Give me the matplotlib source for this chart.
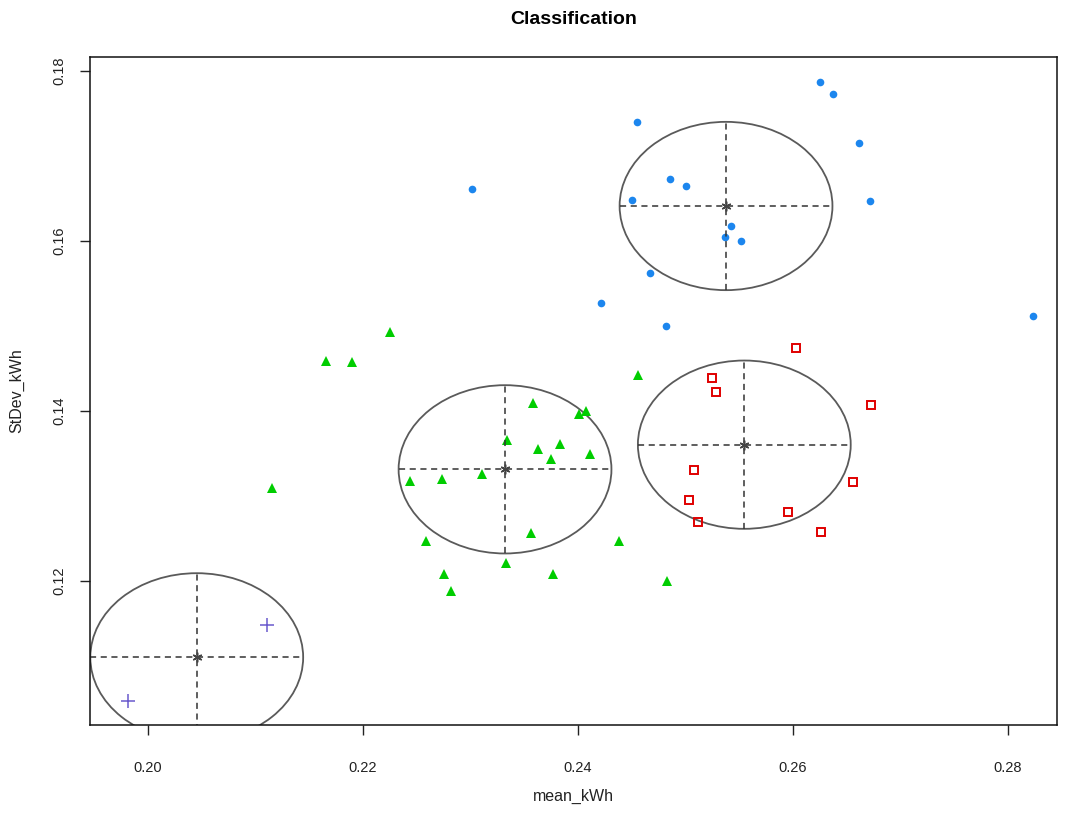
import matplotlib
matplotlib.use('Agg')
import matplotlib.pyplot as plt
import numpy as np
from matplotlib.patches import Ellipse

plt.rcParams['font.family'] = ['Liberation Sans', 'DejaVu Sans']

# cluster members (mean_kWh, StDev_kWh)
blue_x = [0.26248, 0.26375, 0.24552, 0.26611, 0.24856, 0.25005, 0.24502, 0.26719,
          0.25423, 0.25370, 0.25519, 0.24667, 0.24217, 0.24816, 0.28233, 0.23014]
blue_y = [0.17871, 0.17729, 0.17404, 0.17153, 0.16726, 0.16651, 0.16479, 0.16471,
          0.16173, 0.16047, 0.15996, 0.15620, 0.15267, 0.15000, 0.15121, 0.16612]

green_x = [0.22251, 0.21656, 0.21895, 0.24555, 0.23584, 0.24009, 0.24072, 0.23337,
           0.23631, 0.23833, 0.23746, 0.24112, 0.21153, 0.22440, 0.22735, 0.23110,
           0.22589, 0.23560, 0.24384, 0.23327, 0.22756, 0.23765, 0.22819, 0.24825]
green_y = [0.14933, 0.14588, 0.14573, 0.14420, 0.14098, 0.13965, 0.14004, 0.13659,
           0.13549, 0.13608, 0.13439, 0.13491, 0.13091, 0.13176, 0.13196, 0.13259,
           0.12474, 0.12568, 0.12474, 0.12215, 0.12079, 0.12079, 0.11886, 0.12004]

red_x = [0.26028, 0.25247, 0.25281, 0.26728, 0.25082, 0.26561, 0.25030, 0.25113,
         0.25953, 0.26258]
red_y = [0.14745, 0.14385, 0.14224, 0.14071, 0.13309, 0.13161, 0.12953, 0.12698,
         0.12815, 0.12576]

purple_x = [0.21110, 0.19811]
purple_y = [0.11479, 0.10592]

# cluster centres and radius
centre_x = [0.25377, 0.23321, 0.25547, 0.20453]
centre_y = [0.16412, 0.13314, 0.13604, 0.11102]
radius = 0.0099

fig = plt.figure(figsize=(10.7, 8.13), dpi=100)
ax = fig.add_axes([90 / 1070, 1 - 725 / 813, 967 / 1070, 668 / 813])

ax.plot(blue_x, blue_y, 'o', color='#1C86EE', markersize=5.5, markeredgewidth=0)
ax.plot(green_x, green_y, '^', color='#00CD00', markersize=7, markeredgewidth=0)
ax.plot(red_x, red_y, 's', color='#E00000', markerfacecolor='none',
        markersize=6, markeredgewidth=1.4)
ax.plot(purple_x, purple_y, '+', color='#6A5ACD', markersize=10, markeredgewidth=1.1)

for cx, cy in zip(centre_x, centre_y):
    ax.add_patch(Ellipse((cx, cy), 2 * radius, 2 * radius, fill=False,
                         edgecolor='#5a5a5a', linewidth=1.3, clip_on=True))
    ax.plot([cx - radius, cx + radius], [cy, cy], color='#333333',
            linestyle=(0, (4, 3)), linewidth=1.1)
    ax.plot([cx, cx], [cy - radius, cy + radius], color='#333333',
            linestyle=(0, (4, 3)), linewidth=1.1)
    ax.plot(cx, cy, marker=(6, 2, 0), color='#444444', markersize=7, markeredgewidth=1.1)

ax.set_xlim(0.19460, 0.28456)
ax.set_ylim(0.10306, 0.18165)
ax.set_xticks([0.20, 0.22, 0.24, 0.26, 0.28])
ax.set_xticklabels(['0.20', '0.22', '0.24', '0.26', '0.28'])
ax.set_yticks([0.12, 0.14, 0.16, 0.18])
ax.set_yticklabels(['0.12', '0.14', '0.16', '0.18'], rotation=90, va='center')
ax.tick_params(direction='out', length=7, width=1, labelsize=10.5, colors='#222222')
ax.tick_params(axis='x', pad=19)
ax.tick_params(axis='y', pad=10)
for s in ax.spines.values():
    s.set_linewidth(1.1)
    s.set_color('#111111')

ax.set_xlabel('mean_kWh', fontsize=11.5, color='#222222', labelpad=10)
ax.set_ylabel('StDev_kWh', fontsize=11.5, color='#222222', labelpad=20)
ax.set_title('Classification', fontsize=14, fontweight='bold', pad=24)

fig.savefig('out.png', dpi=100)
